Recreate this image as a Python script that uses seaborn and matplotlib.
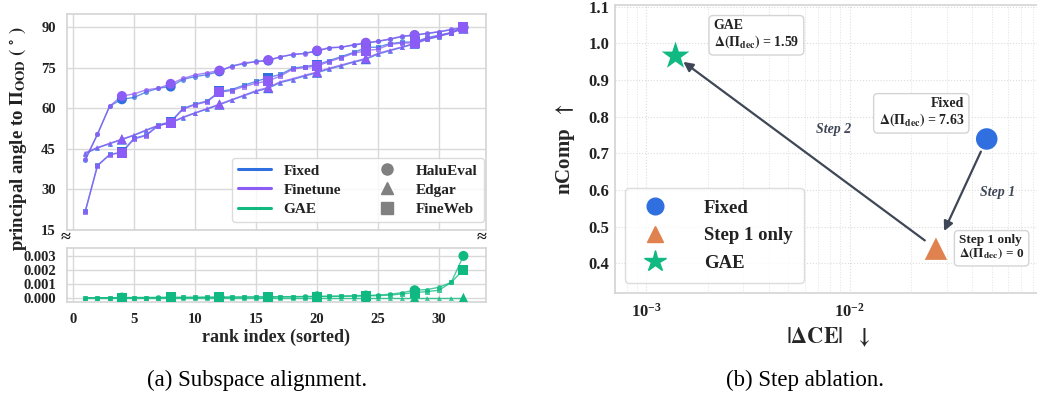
import numpy as np
import pandas as pd
import matplotlib
matplotlib.use("Agg")
import matplotlib.pyplot as plt
from matplotlib.lines import Line2D
import seaborn as sns

# ---------------- data: (a) principal angles per rank index ----------------
rank = list(range(1, 33))

fin_halu = [41.2, 50.4, 60.8, 64.5, 65.3, 66.8, 67.4, 69.0, 71.0, 72.3, 73.1, 73.9,
            75.4, 76.8, 77.1, 77.8, 79.0, 79.9, 80.2, 81.3, 82.4, 82.5, 83.5, 84.2,
            84.8, 85.6, 86.7, 87.0, 87.7, 88.3, 89.1, 89.9]
fix_halu = [40.8, 50.4, 60.8, 63.3, 64.0, 66.0, 67.4, 68.0, 70.6, 71.7, 72.4, 73.6,
            75.6, 76.4, 77.3, 77.6, 79.0, 79.8, 80.3, 81.1, 82.3, 82.6, 83.3, 84.0,
            84.7, 85.5, 86.5, 87.0, 87.6, 88.2, 89.0, 89.8]
fin_edgar = [43.6, 45.5, 47.0, 48.6, 50.1, 52.0, 53.7, 54.7, 56.7, 58.3, 59.9, 61.5,
             63.2, 64.8, 66.5, 67.7, 69.8, 70.9, 72.2, 73.4, 74.8, 76.0, 77.2, 78.4,
             80.3, 81.5, 82.7, 84.0, 85.6, 86.7, 88.0, 89.5]
fix_edgar = [43.2, 45.3, 46.9, 48.4, 50.0, 51.8, 53.6, 54.6, 56.5, 58.2, 59.7, 61.3,
             63.0, 64.6, 66.2, 67.4, 69.5, 70.6, 71.9, 73.1, 74.5, 75.7, 77.0, 78.1,
             80.0, 81.3, 82.5, 83.8, 85.4, 86.5, 87.9, 89.4]
fin_fineweb = [21.8, 38.7, 42.8, 43.6, 48.6, 49.9, 53.6, 54.7, 59.6, 61.3, 62.4, 65.9,
               66.5, 68.0, 69.2, 70.1, 71.9, 74.4, 75.1, 75.6, 77.2, 78.7, 80.3, 81.3,
               81.8, 83.6, 84.1, 84.1, 85.8, 86.8, 87.7, 90.1]
fix_fineweb = [22.0, 38.9, 42.9, 43.8, 48.9, 50.1, 53.8, 55.0, 59.9, 61.5, 62.7, 66.2,
               66.9, 68.5, 69.9, 71.3, 72.5, 74.8, 75.4, 76.1, 77.6, 79.1, 80.6, 82.4,
               82.6, 83.9, 84.4, 84.5, 86.0, 87.0, 87.9, 90.0]
gae_halu = [0.00001, 0.00001, 0.00001, 0.00002, 0.00002, 0.00002, 0.00003, 0.00003,
            0.00003, 0.00004, 0.00004, 0.00005, 0.00005, 0.00006, 0.00006, 0.00007,
            0.00008, 0.00009, 0.00010, 0.00011, 0.00012, 0.00013, 0.00015, 0.00017,
            0.00020, 0.00026, 0.00038, 0.00055, 0.00060, 0.00076, 0.00112, 0.00303]
gae_edgar = [0.0] * 32
gae_fineweb = [0.00001, 0.00001, 0.00001, 0.00001, 0.00002, 0.00002, 0.00002, 0.00003,
               0.00003, 0.00003, 0.00004, 0.00004, 0.00005, 0.00005, 0.00006, 0.00006,
               0.00007, 0.00007, 0.00008, 0.00009, 0.00010, 0.00011, 0.00012, 0.00014,
               0.00016, 0.00020, 0.00028, 0.00038, 0.00045, 0.00055, 0.00112, 0.00203]

methods = ["Fixed", "Finetune", "GAE"]
datasets = ["HaluEval", "Edgar", "FineWeb"]
series = {
    ("Fixed", "HaluEval"): fix_halu, ("Fixed", "Edgar"): fix_edgar, ("Fixed", "FineWeb"): fix_fineweb,
    ("Finetune", "HaluEval"): fin_halu, ("Finetune", "Edgar"): fin_edgar, ("Finetune", "FineWeb"): fin_fineweb,
    ("GAE", "HaluEval"): gae_halu, ("GAE", "Edgar"): gae_edgar, ("GAE", "FineWeb"): gae_fineweb,
}

# ---------------- data: (b) step ablation ----------------
variants = ["Fixed", "Step 1 only", "GAE"]
delta_ce = [0.0473, 0.0266, 0.00139]
ncomp = [0.739, 0.440, 0.965]
delta_pi = ["7.63", "0", "1.59"]

# ---------------- style ----------------
sns.set_theme(style="whitegrid")
plt.rcParams["font.family"] = ["Liberation Serif", "DejaVu Serif"]
plt.rcParams["font.weight"] = "bold"
plt.rcParams["mathtext.fontset"] = "stix"
plt.rcParams["mathtext.default"] = "bf"
plt.rcParams["axes.edgecolor"] = "#d4d4d4"
plt.rcParams["grid.color"] = "#d9d9d9"
plt.rcParams["text.color"] = "#222222"
plt.rcParams["xtick.color"] = "#222222"
plt.rcParams["ytick.color"] = "#222222"

c_fixed, c_fin, c_gae, c_step = "#2f6fdf", "#8b5cf6", "#10b981", "#e0824f"
method_pal = {"Fixed": c_fixed, "Finetune": c_fin, "GAE": c_gae}
ds_markers = {"HaluEval": "o", "Edgar": "^", "FineWeb": "s"}
ink = "#3f4757"

rows = []
for (m, d), vals in series.items():
    for r, v in zip(rank, vals):
        rows.append({"method": m, "dataset": d, "rank": r, "value": v})
df = pd.DataFrame(rows)
df["method"] = pd.Categorical(df["method"], methods, ordered=True)
big = df[df["rank"] % 4 == 0]

W, H = 1037, 398
fig = plt.figure(figsize=(W / 100, H / 100), dpi=100)


def frac(x0, y0, x1, y1):
    return [x0 / W, 1 - y1 / H, (x1 - x0) / W, (y1 - y0) / H]


ax_top = fig.add_axes(frac(67, 13.5, 486, 230))
ax_bot = fig.add_axes(frac(67, 248, 486, 302), sharex=ax_top)

# both panels get every series; each panel's y-range shows only its own band
for ax in (ax_top, ax_bot):
    sns.lineplot(data=df, x="rank", y="value", hue="method", style="dataset",
                 hue_order=methods, style_order=datasets, palette=method_pal,
                 markers=ds_markers, dashes=False, markersize=3.6, markeredgewidth=0,
                 linewidth=1.0, alpha=0.75, legend=False, ax=ax, estimator=None)
    sns.scatterplot(data=big, x="rank", y="value", hue="method", style="dataset",
                    hue_order=methods, style_order=datasets, palette=method_pal,
                    markers=ds_markers, s=52, linewidth=0, legend=False, ax=ax,
                    zorder=4)

ax_top.set_ylim(15, 95)
ax_top.set_yticks([15, 30, 45, 60, 75, 90])
ax_top.set_xlim(-0.5, 33.85)
ax_top.set_xticks([0, 5, 10, 15, 20, 25, 30])
ax_top.tick_params(axis="x", labelbottom=False)
ax_top.set_xlabel("")
ax_top.set_ylabel("")

ax_bot.set_ylim(-0.0003, 0.0036)
ax_bot.set_yticks([0.0, 0.001, 0.002, 0.003])
ax_bot.set_yticklabels([f"{v:.3f}" for v in [0.0, 0.001, 0.002, 0.003]])
ax_bot.set_ylabel("")
ax_bot.set_xlabel("rank index (sorted)", fontsize=13, fontweight="bold", labelpad=2)

for ax in (ax_top, ax_bot):
    ax.tick_params(labelsize=10.5, pad=2)
    for lab in ax.get_xticklabels() + ax.get_yticklabels():
        lab.set_fontweight("bold")
    for sp in ax.spines.values():
        sp.set_linewidth(1.2)

fig.text(18 / W, 1 - 139 / H, r"principal angle to $\Pi_{\mathbf{OOD}}$ $(\,^\circ\,)$",
         rotation=90, ha="center", va="center", fontsize=13.5, fontweight="bold")
fig.text(66 / W, 1 - 237 / H, "≈", ha="center", va="center", fontsize=13)
fig.text(482 / W, 1 - 237 / H, "≈", ha="center", va="center", fontsize=13)

handles = [Line2D([], [], color=method_pal[m], lw=2.2, label=m) for m in methods]
handles += [Line2D([], [], color="#808080", marker=ds_markers[d], ls="none",
                   markersize=8, label=d) for d in datasets]
leg = ax_top.legend(handles=handles, ncol=2, loc="lower right",
                    bbox_to_anchor=(0.995, 0.037), borderaxespad=0,
                    prop={"size": 11, "weight": "bold"}, frameon=True,
                    handlelength=2.2, columnspacing=1.9, handletextpad=0.8,
                    labelspacing=0.35)
leg.get_frame().set_edgecolor("#d4d4d4")

# ---------------- (b) step ablation ----------------
ax_r = fig.add_axes(frac(615, 4.7, 1042, 292.7))
dfr = pd.DataFrame({"variant": variants, "dce": delta_ce, "ncomp": ncomp})
var_pal = {"Fixed": c_fixed, "Step 1 only": c_step, "GAE": c_gae}
var_markers = {"Fixed": "o", "Step 1 only": "^", "GAE": "*"}
sns.scatterplot(data=dfr, x="dce", y="ncomp", hue="variant", style="variant",
                size="variant", sizes={"Fixed": 240, "Step 1 only": 260, "GAE": 440},
                palette=var_pal, markers=var_markers, linewidth=0, legend=False,
                ax=ax_r, zorder=5)
ax_r.set_xscale("log")
ax_r.set_xlim(7e-4, 0.0885)
ax_r.set_ylim(0.32, 1.105)
ax_r.set_yticks([0.4, 0.5, 0.6, 0.7, 0.8, 0.9, 1.0, 1.1])
ax_r.set_yticklabels([f"{v:.1f}" for v in [0.4, 0.5, 0.6, 0.7, 0.8, 0.9, 1.0, 1.1]])
ax_r.grid(False)
ax_r.grid(True, which="major", ls=":", lw=0.8, color="#dcdcdc")
ax_r.grid(True, which="minor", axis="x", ls=":", lw=0.7, color="#e2e2e2")
ax_r.tick_params(labelsize=12, which="both", length=0)
ax_r.tick_params(axis="x", pad=7)
ax_r.tick_params(axis="y", pad=4)
for lab in ax_r.get_xticklabels() + ax_r.get_yticklabels():
    lab.set_fontweight("bold")
for sp in ax_r.spines.values():
    sp.set_linewidth(1.2)
ax_r.set_xlabel(r"$|\Delta\mathbf{CE}|$  $\downarrow$", fontsize=16, labelpad=4)
ax_r.set_ylabel(r"nComp  $\uparrow$", fontsize=15, fontweight="bold", labelpad=8)

pts = dict(zip(variants, zip(delta_ce, ncomp)))
ax_r.annotate("", xy=pts["Step 1 only"], xytext=pts["Fixed"],
              arrowprops=dict(arrowstyle="-|>", color=ink, lw=1.6, mutation_scale=14,
                              shrinkA=10, shrinkB=14), zorder=4)
ax_r.annotate("", xy=pts["GAE"], xytext=pts["Step 1 only"],
              arrowprops=dict(arrowstyle="-|>", color=ink, lw=1.6, mutation_scale=14,
                              shrinkA=10, shrinkB=7), zorder=4)
ax_r.text(0.0536, 0.594, "Step 1", style="italic", fontweight="bold", fontsize=10,
          color=ink, ha="center", va="center")
ax_r.text(0.0083, 0.764, "Step 2", style="italic", fontweight="bold", fontsize=10,
          color=ink, ha="center", va="center")

box = dict(boxstyle="round,pad=0.35,rounding_size=0.3", fc="white", ec="#d4d4d4", lw=1)
label_spec = {"Fixed": ((-16.3, 19.0), "right", 10),
              "Step 1 only": ((16.6, 0.7), "left", 9.5),
              "GAE": ((27.6, 15.5), "left", 10)}
for v, d in zip(variants, delta_pi):
    off, ha, fs = label_spec[v]
    ax_r.annotate(f"{v}\n" + r"$\Delta(\Pi_{\mathrm{dec}})$ = " + d, xy=pts[v],
                  xytext=off, textcoords="offset points", ha=ha, va="center",
                  multialignment=ha, fontsize=fs, fontweight="bold", bbox=box,
                  linespacing=1.1, zorder=6)

rh = [Line2D([], [], color=var_pal[v], marker=var_markers[v], ls="none",
             markersize=16 if v == "GAE" else 12, label=v) for v in variants]
leg2 = ax_r.legend(handles=rh, loc="lower left", bbox_to_anchor=(0.0234, 0.034),
                   borderaxespad=0, prop={"size": 13.5, "weight": "bold"},
                   handletextpad=1.6, labelspacing=0.55, borderpad=0.6, frameon=True)
leg2.get_frame().set_edgecolor("#d4d4d4")

fig.text(257 / W, 1 - 380 / H, "(a) Subspace alignment.", ha="center", va="center",
         fontsize=16.5, fontweight="normal", color="black")
fig.text(805 / W, 1 - 380 / H, "(b) Step ablation.", ha="center", va="center",
         fontsize=16.5, fontweight="normal", color="black")

fig.savefig("out.png", dpi=100)
